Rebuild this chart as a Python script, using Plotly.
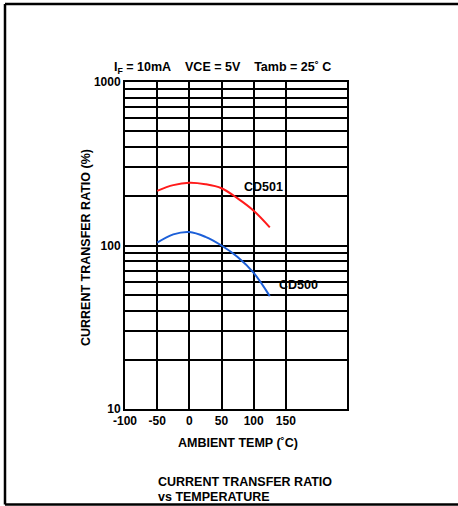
import plotly.graph_objects as go

# Data
temp_cd501 = [-50, -25, 0, 25, 50, 75, 100, 125]
ctr_cd501 = [216, 234, 242, 237, 224, 194, 163, 129]
temp_cd500 = [-50, -25, 0, 25, 50, 75, 100, 125]
ctr_cd500 = [104, 117, 121, 113, 100, 85, 68, 49]

x_ticks = [-100, -50, 0, 50, 100, 150]
y_grid = [10, 20, 30, 40, 50, 60, 70, 80, 90,
          100, 200, 300, 400, 500, 600, 700, 800, 900, 1000]
y_labels = {10: "10", 100: "100", 1000: "1000"}

FONT = "Liberation Sans, Arial, sans-serif"
W, H = 458, 506
L, R, T, B = 125, 347, 82, 409   # plot area in pixels


def px(xp):
    return (xp - L) / (R - L)


def py(yp):
    return (B - yp) / (B - T)


fig = go.Figure()
fig.add_trace(go.Scatter(x=temp_cd501, y=ctr_cd501, mode="lines",
                         line=dict(color="#ff1a1a", width=2, shape="spline"),
                         showlegend=False, name="CD501"))
fig.add_trace(go.Scatter(x=temp_cd500, y=ctr_cd500, mode="lines",
                         line=dict(color="#1c5fd8", width=2, shape="spline"),
                         showlegend=False, name="CD500"))

bold = dict(family=FONT, size=12.5, color="black", weight="bold")


def ann(text, x, y, xref="paper", yref="paper", xanchor="center", **kw):
    return dict(text=text, x=x, y=y, xref=xref, yref=yref, showarrow=False,
                xanchor=xanchor, yanchor="middle", font=bold, **kw)


annotations = [
    ann("CD501", 116, 2.358, xref="x", yref="y"),
    ann("CD500", 169, 1.758, xref="x", yref="y"),
    ann("I<sub>F</sub> = 10mA\u00a0\u00a0\u00a0\u00a0VCE = 5V\u00a0\u00a0\u00a0\u00a0Tamb = 25\u02da C",
        px(222), py(68)),
    ann("CURRENT TRANSFER RATIO (%)", px(86), py(248), textangle=-90),
    ann("AMBIENT TEMP (\u02daC)", px(238), py(443)),
    ann("CURRENT TRANSFER RATIO", px(156), py(482), xanchor="left"),
    ann("vs TEMPERATURE", px(156), py(497), xanchor="left"),
]

shapes = [
    dict(type="line", xref="paper", yref="paper", x0=px(5), x1=px(460),
         y0=py(4), y1=py(4), line=dict(color="black", width=2.5)),
    dict(type="line", xref="paper", yref="paper", x0=px(5), x1=px(5),
         y0=py(4), y1=py(504.5), line=dict(color="black", width=2.5)),
    dict(type="line", xref="paper", yref="paper", x0=px(5), x1=px(460),
         y0=py(504.5), y1=py(504.5), line=dict(color="black", width=2.5)),
]

fig.update_layout(
    width=W, height=H,
    margin=dict(l=L, r=W - R, t=T, b=H - B),
    paper_bgcolor="white", plot_bgcolor="white",
    font=dict(family=FONT, size=12, color="black"),
    annotations=annotations,
    shapes=shapes,
    xaxis=dict(range=[-100, 245], tickvals=x_ticks,
               ticktext=[str(v) for v in x_ticks],
               showgrid=True, gridcolor="black", gridwidth=2,
               showline=True, linecolor="black", linewidth=2, mirror=True,
               zeroline=False, ticks="",
               tickfont=dict(family=FONT, size=12, color="black", weight="bold")),
    yaxis=dict(type="log", range=[1, 3], tickvals=y_grid,
               ticktext=[y_labels.get(v, "") for v in y_grid],
               showgrid=True, gridcolor="black", gridwidth=2,
               showline=True, linecolor="black", linewidth=2, mirror=True,
               zeroline=False, ticks="",
               tickfont=dict(family=FONT, size=12, color="black", weight="bold")),
)

fig.write_html("out.html", config={"displayModeBar": False},
               post_script="document.body.style.margin='0';document.body.style.overflow='hidden';")
